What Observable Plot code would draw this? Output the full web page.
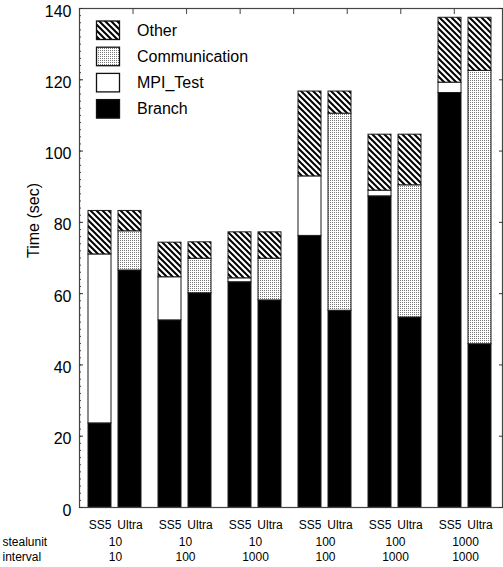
<!DOCTYPE html>
<html><head><meta charset="utf-8">
<script src="https://cdn.jsdelivr.net/npm/d3@7"></script>
<script src="https://cdn.jsdelivr.net/npm/@observablehq/plot@0.6"></script>
<style>
body{margin:0;background:#fff;}
#wrap{position:relative;width:503px;height:567px;font-family:"Liberation Sans",Arial,Helvetica,sans-serif;}
#wrap > svg{position:absolute;left:0;top:0;}
</style></head><body><div id="wrap"></div>
<script>
// ---- data ----
const groupStealunit = ["10", "10", "10", "100", "100", "1000"];
const groupInterval  = ["10", "100", "1000", "100", "1000", "1000"];
const machines = ["SS5", "Ultra"];
const components = ["Branch", "MPI_Test", "Communication", "Other"];
const legendOrder = ["Other", "Communication", "MPI_Test", "Branch"];
// bar order: (group 1 SS5, group 1 Ultra, group 2 SS5, ...)
const branch        = [23.6, 66.5, 52.5, 60.1, 63.2, 58.1, 76.2, 55.2, 87.3, 53.3, 116.3, 45.8];
const mpiTest       = [47.4, 0,    12.1, 0,    1.1,  0,    16.7, 0,    1.6,  0,    2.9,   0];
const communication = [0,    11.0, 0,    9.7,  0,    11.7, 0,    55.3, 0,    37.1, 0,     76.7];
const other         = [12.2, 5.7,  9.7,  4.6,  12.9, 7.4,  23.8, 6.2,  15.7, 14.2, 18.2,  14.9];
const yTicks = [0, 20, 40, 60, 80, 100, 120, 140];
const yMinorTicks = d3.range(0, 141, 2);
const topTicks = [1, 2, 3, 4, 5, 6, 7];
const rowLabels = ["stealunit", "interval"];

const FONT = '"Liberation Sans", Arial, Helvetica, sans-serif';
const groups = groupStealunit.map((s, i) => `${s}|${groupInterval[i]}`);
const series = {Branch: branch, MPI_Test: mpiTest, Communication: communication, Other: other};
const rows = [];
groups.forEach((g, gi) => machines.forEach((m, mi) => {
  const idx = gi * 2 + mi;
  components.forEach(c => {
    const v = series[c][idx];
    if (v > 0) rows.push({group: g, machine: m, component: c, value: v});
  });
}));
const fills = ["#000", "#fff", "url(#pat-dots)", "url(#pat-hatch)"];

const wrap = document.getElementById("wrap");

// pattern definitions
const defsSvg = d3.create("svg").attr("width", 0).attr("height", 0).style("position", "absolute");
const defs = defsSvg.append("defs");
const hatch = defs.append("pattern").attr("id", "pat-hatch").attr("patternUnits", "userSpaceOnUse").attr("width", 6).attr("height", 6);
hatch.append("rect").attr("width", 6).attr("height", 6).attr("fill", "#fff");
hatch.append("path").attr("d", "M-1,-1L7,7M-2,4L2,8M4,-2L8,2").attr("stroke", "#000").attr("stroke-width", 2);
const dots = defs.append("pattern").attr("id", "pat-dots").attr("patternUnits", "userSpaceOnUse").attr("width", 2).attr("height", 2);
dots.append("rect").attr("width", 2).attr("height", 2).attr("fill", "#fff");
dots.append("rect").attr("width", 1).attr("height", 1).attr("fill", "#777");
wrap.appendChild(defsSvg.node());

// main chart (bars + bottom labels)
const main = Plot.plot({
  width: 503, height: 567,
  marginTop: 8, marginBottom: 60, marginLeft: 80, marginRight: 3,
  style: {fontFamily: FONT, fontSize: "12px", background: "white", color: "#000"},
  fx: {domain: groups, padding: 0, axis: null},
  x: {domain: machines, paddingInner: 0.223, paddingOuter: 0.278, axis: null},
  y: {domain: [0, 140], axis: null},
  color: {domain: components, range: fills},
  marks: [
    Plot.barY(rows, {fx: "group", x: "machine", y: "value", fill: "component", order: components, stroke: "#1a1a1a", strokeWidth: 1}),
    Plot.axisX({tickSize: 0, tickPadding: 13, fontSize: 12, label: null}),
    Plot.text(groups, {fx: d => d, text: (d, i) => groupStealunit[i] + "\n" + groupInterval[i], frameAnchor: "bottom", lineAnchor: "middle", dy: 41.5, lineHeight: 1.25, fontSize: 12}),
    Plot.text([rowLabels.join("\n")], {fx: () => groups[0], text: d => d, frameAnchor: "bottom-left", lineAnchor: "middle", textAnchor: "start", dx: -78, dy: 41.5, lineHeight: 1.25, fontSize: 12})
  ]
});
wrap.appendChild(main);

// overlay: frame, ticks, y labels
const overlay = Plot.plot({
  width: 503, height: 567,
  marginTop: 8, marginBottom: 60, marginLeft: 79, marginRight: 1,
  style: {fontFamily: FONT, fontSize: "16px", background: "transparent", color: "#000", pointerEvents: "none"},
  x: {domain: [0, 7.9], axis: null},
  y: {domain: [0, 140], axis: null},
  marks: [
    Plot.frame({stroke: "#444", strokeWidth: 1.2}),
    Plot.axisY({anchor: "left", ticks: yMinorTicks, tickSize: -2, tickFormat: () => "", label: null, stroke: "#444"}),
    Plot.axisY({anchor: "left", ticks: yTicks, tickSize: -4, tickFormat: () => "", label: null, stroke: "#333"}),
    Plot.axisY({anchor: "left", ticks: yTicks, tickSize: 0, tickPadding: 8, dy: 3, fontSize: 16, label: null}),
    Plot.axisY({anchor: "right", ticks: yTicks, tickSize: -4, tickFormat: () => "", label: null, stroke: "#333"}),
    Plot.axisX({anchor: "top", ticks: topTicks, tickSize: -5, tickFormat: () => "", label: null, stroke: "#444"}),
    Plot.text(["Time (sec)"], {frameAnchor: "left", dx: -46, rotate: -90, fontSize: 16})
  ]
});
wrap.appendChild(overlay);

// in-plot legend
const lg = d3.create("svg").attr("width", 503).attr("height", 567).style("pointer-events", "none");
legendOrder.forEach((c, i) => {
  const top = 21 + i * 26.2;
  lg.append("rect").attr("x", 96.5).attr("y", top).attr("width", 23).attr("height", 18.5)
    .attr("fill", fills[components.indexOf(c)]).attr("stroke", "#111").attr("stroke-width", 1.3);
  lg.append("text").attr("x", 137).attr("y", top + 9.25).attr("dominant-baseline", "central")
    .attr("font-family", FONT).attr("font-size", 16).text(c);
});
wrap.appendChild(lg.node());
</script>
</body></html>
